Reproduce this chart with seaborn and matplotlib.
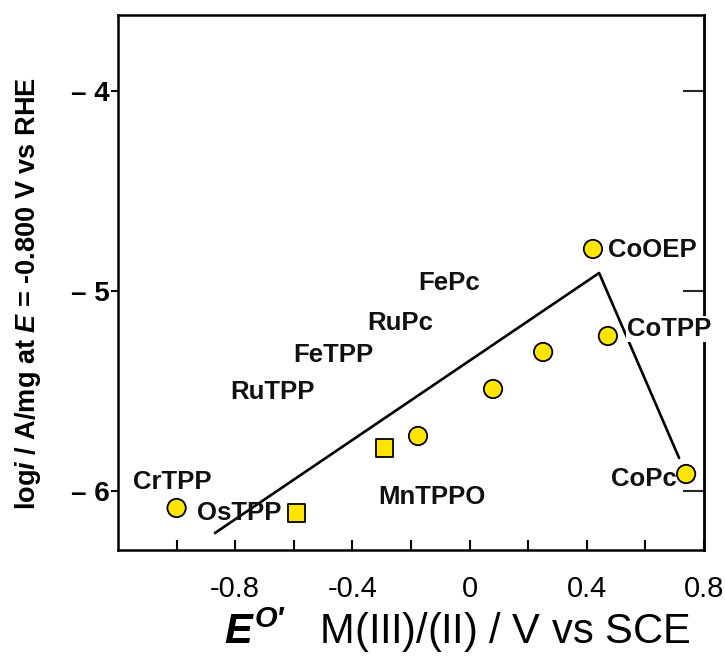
import matplotlib
matplotlib.use("Agg")
import matplotlib.pyplot as plt
import seaborn as sns
import pandas as pd
from matplotlib.ticker import FixedLocator, FixedFormatter

# ---- data ----
pt_x = [-1.00, -0.592, -0.289, -0.176, 0.080, 0.251, 0.421, 0.472, 0.739]
pt_y = [-6.085, -6.11, -5.785, -5.725, -5.49, -5.305, -4.79, -5.225, -5.915]
pt_shape = ["circle", "square", "square", "circle", "circle", "circle", "circle", "circle", "circle"]

line_x = [-0.869, 0.442, 0.715]
line_y = [-6.21, -4.91, -5.835]

lab_text = ["CrTPP", "OsTPP", "RuTPP", "FeTPP", "RuPc", "FePc", "MnTPPO", "CoOEP", "CoTPP", "CoPc"]
lab_x = [-1.016, -0.787, -0.674, -0.466, -0.238, -0.070, -0.128, 0.623, 0.681, 0.595]
lab_y = [-5.955, -6.11, -5.505, -5.32, -5.16, -4.96, -6.03, -4.795, -5.19, -5.94]

x_ticks = [-1.0, -0.8, -0.6, -0.4, -0.2, 0.0, 0.2, 0.4, 0.6, 0.8]
x_ticklabels = ["", "-0.8", "", "-0.4", "", "0", "", "0.4", "", "0.8"]
y_ticks = [-6, -5, -4]
y_ticklabels = ["\u2013 6", "\u2013 5", "\u2013 4"]

# ---- style ----
sns.set_theme(style="white")
plt.rcParams["font.family"] = ["Liberation Sans", "DejaVu Sans"]
plt.rcParams["mathtext.fontset"] = "custom"
plt.rcParams["mathtext.it"] = "Liberation Sans:italic:bold"
plt.rcParams["mathtext.rm"] = "Liberation Sans:bold"
plt.rcParams["mathtext.bf"] = "Liberation Sans:bold"

fig = plt.figure(figsize=(7.25, 6.57), dpi=100)
ax = fig.add_axes([118/725, 1-550/657, (704-118)/725, (550-15)/657])

df = pd.DataFrame({"x": pt_x, "y": pt_y, "shape": pt_shape})
ldf = pd.DataFrame({"x": line_x, "y": line_y})

sns.lineplot(data=ldf, x="x", y="y", sort=False, color="black", lw=1.9, ax=ax,
             estimator=None)
sns.scatterplot(data=df, x="x", y="y", style="shape",
                markers={"circle": "o", "square": "s"},
                size="shape", sizes={"circle": 175, "square": 150},
                color="#FFE500", edgecolor="black", linewidth=1.3,
                legend=False, ax=ax, zorder=3)

for t, x, y in zip(lab_text, lab_x, lab_y):
    kw = {}
    if t == "CoTPP":
        kw["bbox"] = dict(facecolor="white", edgecolor="none", pad=0.5)
    ax.text(x, y, t, ha="center", va="center", fontsize=18.5, fontweight="bold",
            color="#111111", zorder=4, **kw)

ax.set_xlim(-1.2, 0.8)
ax.set_ylim(-6.295, -3.62)

ax.xaxis.set_major_locator(FixedLocator(x_ticks))
ax.xaxis.set_major_formatter(FixedFormatter(x_ticklabels))
ax.yaxis.set_major_locator(FixedLocator(y_ticks))
ax.yaxis.set_major_formatter(FixedFormatter(y_ticklabels))

ax.tick_params(axis="x", direction="in", length=7.5, width=1.5, pad=18,
               labelsize=21, colors="black", bottom=True)
ax.tick_params(axis="y", direction="out", length=5, width=1.5, pad=1,
               labelsize=20, colors="black", left=True)
for lbl in ax.get_yticklabels():
    lbl.set_fontweight("bold")

sec = ax.secondary_yaxis("right")
sec.yaxis.set_major_locator(FixedLocator(y_ticks))
sec.tick_params(axis="y", direction="in", length=15, width=1.5, labelright=False)
sec.spines["right"].set_linewidth(1.8)

for s in ax.spines.values():
    s.set_linewidth(1.8)
    s.set_color("black")

ax.set_xlabel(r"$E^{O\prime}$   M(III)/(II) / V vs SCE", fontsize=30, color="black")
ax.xaxis.set_label_coords(0.578, -0.104)
ax.set_ylabel(r"log$i$ / A/mg at $E$ = -0.800 V vs RHE", fontsize=19.5,
              fontweight="bold", color="black")
ax.yaxis.set_label_coords(-0.128, 0.48)

fig.savefig("out.png", dpi=100)
